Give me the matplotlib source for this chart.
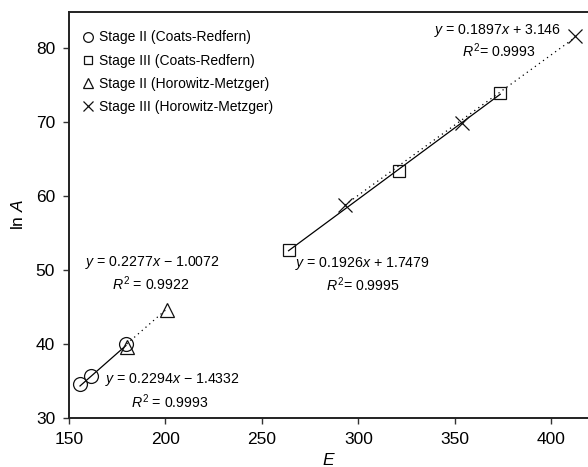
import numpy as np
import matplotlib
matplotlib.use("Agg")
import matplotlib.pyplot as plt

plt.rcParams['font.family'] = ['Liberation Sans', 'DejaVu Sans']
plt.rcParams['mathtext.fontset'] = 'custom'
plt.rcParams['mathtext.rm'] = 'Liberation Sans'
plt.rcParams['mathtext.it'] = 'Liberation Sans:italic'

# Data
s2_cr_E = [155.7, 161.2, 179.5]
s2_cr_lnA = [34.5, 35.7, 39.9]
s3_cr_E = [263.8, 320.8, 373.5]
s3_cr_lnA = [52.7, 63.3, 73.9]
s2_hm_E = [179.9, 201.0]
s2_hm_lnA = [39.55, 44.6]
s3_hm_E = [293.0, 353.8, 412.3]
s3_hm_lnA = [58.7, 69.8, 81.5]

# fit coefficients (slope, intercept) as given in chart
fit_s2_cr = (0.2294, -1.4332)
fit_s3_cr = (0.1926, 1.7479)
fit_s2_hm = (0.2277, -1.0072)
fit_s3_hm = (0.1897, 3.146)

labels = ['Stage II (Coats-Redfern)', 'Stage III (Coats-Redfern)',
          'Stage II (Horowitz-Metzger)', 'Stage III (Horowitz-Metzger)']

fig = plt.figure(figsize=(5.88, 4.67), dpi=100)
ax = fig.add_axes([69/588, 49.3/467, 1 - 69/588, (417.7 - 12)/467])

def fitline(E, fit, ls):
    xs = np.array([min(E), max(E)])
    ax.plot(xs, fit[0]*xs + fit[1], color='black', lw=0.9, ls=ls, zorder=1)

fitline(s2_cr_E, fit_s2_cr, '-')
fitline(s3_cr_E, fit_s3_cr, '-')
fitline(s2_hm_E, fit_s2_hm, (0, (1, 3)))
fitline(s3_hm_E, fit_s3_hm, (0, (1, 3)))

mk = dict(ls='none', mfc='none', mec='#111111', mew=0.9)
ax.plot(s2_cr_E, s2_cr_lnA, marker='o', ms=10, label=labels[0], **mk)
ax.plot(s3_cr_E, s3_cr_lnA, marker='s', ms=9, label=labels[1], **mk)
ax.plot(s2_hm_E, s2_hm_lnA, marker='^', ms=10.5, label=labels[2], **mk)
ax.plot(s3_hm_E, s3_hm_lnA, marker='x', ms=10.5, label=labels[3], **mk)

leg = ax.legend(loc='upper left', frameon=False, fontsize=10, handlelength=0.6,
                handletextpad=0.5, markerscale=0.7, labelspacing=0.66,
                bbox_to_anchor=(0.013, 0.975), borderaxespad=0.2)

tk = dict(fontsize=10.2, ha='center', va='center')
ax.text(372.3, 82.3, '$y$ = 0.1897$x$ + 3.146', **tk)
ax.text(373.0, 79.6, '$R^2$= 0.9993', **tk)
ax.text(193, 51.0, '$y$ = 0.2277$x$ − 1.0072', **tk)
ax.text(192.5, 48.1, '$R^2$ = 0.9922', **tk)
ax.text(203.4, 35.2, '$y$ = 0.2294$x$ − 1.4332', **tk)
ax.text(202.5, 32.1, '$R^2$ = 0.9993', **tk)
ax.text(302, 50.8, '$y$ = 0.1926$x$ + 1.7479', **tk)
ax.text(302.5, 47.9, '$R^2$= 0.9995', **tk)

ax.set_xlim(150, 419)
ax.set_ylim(30, 84.8)
ax.set_xticks([150, 200, 250, 300, 350, 400])
ax.set_yticks([30, 40, 50, 60, 70, 80])
ax.tick_params(labelsize=12.5, direction='out', length=4, width=1, color='#333333')
ax.tick_params(axis='x', pad=6)
ax.tick_params(axis='y', pad=6)
for s in ['left', 'bottom', 'top']:
    ax.spines[s].set_linewidth(1.4)
    ax.spines[s].set_color('#222222')
ax.spines['right'].set_visible(False)

ax.set_xlabel('$E$', fontsize=12.5, labelpad=4)
ax.set_ylabel('ln $A$', fontsize=12.5, labelpad=7)

fig.savefig('out.png', dpi=100)
